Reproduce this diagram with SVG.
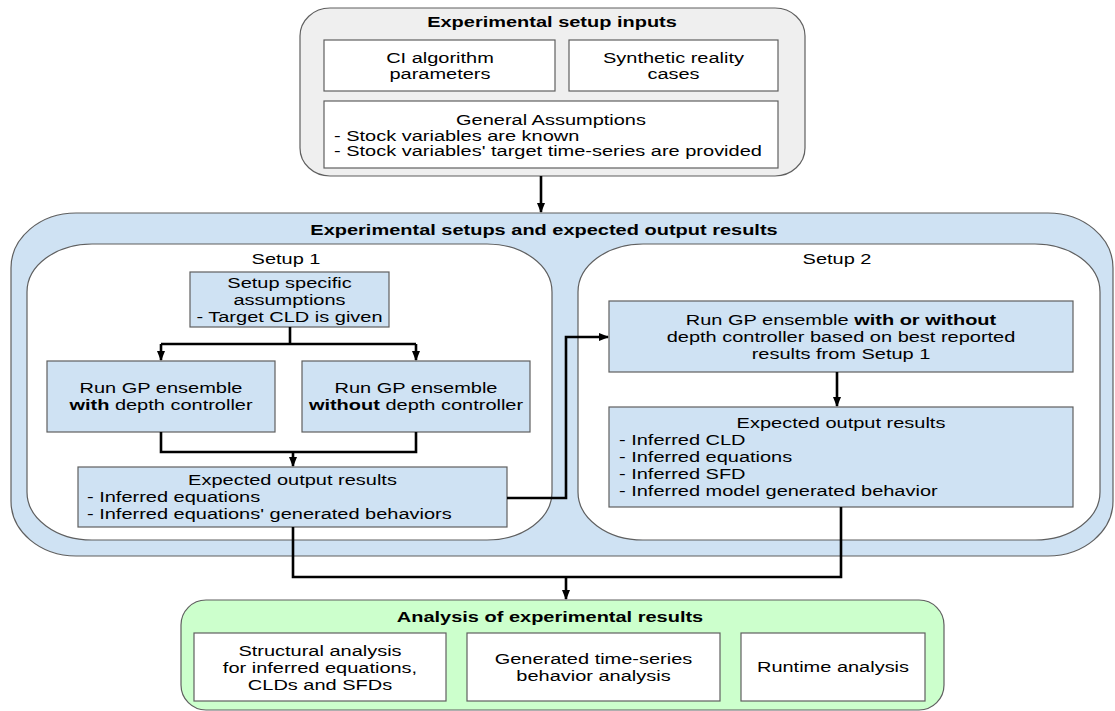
<svg xmlns="http://www.w3.org/2000/svg" width="1115" height="711" viewBox="0 0 1115 711">
<defs>
<style>
.t{font-family:"Liberation Sans",Arial,Helvetica,sans-serif;font-size:15px;fill:#000}
.c{text-anchor:middle}
.b{font-weight:bold}
.box{stroke:#5f5f5f;stroke-width:1.2}
.wh{fill:#ffffff}
.bl{fill:#cfe2f3}
.gr{fill:#efefef}
.gn{fill:#ccffcc}
.ln{fill:none;stroke:#000;stroke-width:2.6}
</style>
<marker id="ah" markerUnits="userSpaceOnUse" markerWidth="10" markerHeight="10" viewBox="0 0 10 10" refX="9" refY="5" orient="auto">
<path d="M0,1 L10,5 L0,9 Z" fill="#000"/>
</marker>
</defs>
<rect width="1115" height="711" fill="#ffffff"/>

<g id="inputs">
<rect class="box gr" x="300" y="8" width="505" height="168" rx="30" ry="28"/>
<text class="t c b" transform="matrix(1.333 0 0 1 552 27)">Experimental setup inputs</text>
</g>
<g id="ci-params">
<rect class="box wh" x="324" y="40" width="231" height="51"/>
<text class="t c" transform="matrix(1.333 0 0 1 440 63)"><tspan x="0">CI algorithm</tspan><tspan x="0" dy="16">parameters</tspan></text>
</g>
<g id="synthetic">
<rect class="box wh" x="569" y="40" width="209" height="51"/>
<text class="t c" transform="matrix(1.333 0 0 1 673.5 63)"><tspan x="0">Synthetic reality</tspan><tspan x="0" dy="16">cases</tspan></text>
</g>
<g id="general">
<rect class="box wh" x="324" y="101" width="454" height="67"/>
<text class="t c" transform="matrix(1.333 0 0 1 551 124.5)">General Assumptions</text>
<text class="t" transform="matrix(1.333 0 0 1 334 140.5)"><tspan x="0">- Stock variables are known</tspan><tspan x="0" dy="16">- Stock variables' target time-series are provided</tspan></text>
</g>

<g id="setups">
<rect class="box bl" x="11" y="213" width="1102" height="343" rx="65" ry="55"/>
<text class="t c b" transform="matrix(1.333 0 0 1 544 235)">Experimental setups and expected output results</text>
</g>

<g id="setup1">
<rect class="box wh" x="27" y="244" width="525" height="296" rx="65" ry="48"/>
<text class="t c" transform="matrix(1.333 0 0 1 286 264)">Setup 1</text>
</g>
<g id="assumptions1">
<rect class="box bl" x="190" y="272" width="199" height="55"/>
<text class="t c" transform="matrix(1.333 0 0 1 289.5 288)"><tspan x="0">Setup specific</tspan><tspan x="0" dy="17">assumptions</tspan><tspan x="0" dy="17">- Target CLD is given</tspan></text>
</g>
<g id="run-with">
<rect class="box bl" x="47" y="361" width="228" height="71"/>
<text class="t c" transform="matrix(1.333 0 0 1 161 393)"><tspan x="0">Run GP ensemble</tspan><tspan x="0" dy="17"><tspan class="b">with</tspan> depth controller</tspan></text>
</g>
<g id="run-without">
<rect class="box bl" x="302" y="361" width="228" height="71"/>
<text class="t c" transform="matrix(1.333 0 0 1 416 393)"><tspan x="0">Run GP ensemble</tspan><tspan x="0" dy="17"><tspan class="b">without</tspan> depth controller</tspan></text>
</g>
<g id="expected1">
<rect class="box bl" x="78" y="467" width="429" height="60"/>
<text class="t c" transform="matrix(1.333 0 0 1 292.5 485)">Expected output results</text>
<text class="t" transform="matrix(1.333 0 0 1 87 502)"><tspan x="0">- Inferred equations</tspan><tspan x="0" dy="17">- Inferred equations' generated behaviors</tspan></text>
</g>

<g id="setup2">
<rect class="box wh" x="578" y="244" width="522" height="296" rx="65" ry="48"/>
<text class="t c" transform="matrix(1.333 0 0 1 837 264)">Setup 2</text>
</g>
<g id="run-either">
<rect class="box bl" x="609" y="301" width="464" height="71"/>
<text class="t c" transform="matrix(1.333 0 0 1 841 325)"><tspan x="0">Run GP ensemble <tspan class="b">with or without</tspan></tspan><tspan x="0" dy="17">depth controller based on best reported</tspan><tspan x="0" dy="17">results from Setup 1</tspan></text>
</g>
<g id="expected2">
<rect class="box bl" x="609" y="407" width="464" height="100"/>
<text class="t c" transform="matrix(1.333 0 0 1 841 428)">Expected output results</text>
<text class="t" transform="matrix(1.333 0 0 1 619 445)"><tspan x="0">- Inferred CLD</tspan><tspan x="0" dy="17">- Inferred equations</tspan><tspan x="0" dy="17">- Inferred SFD</tspan><tspan x="0" dy="17">- Inferred model generated behavior</tspan></text>
</g>

<g id="analysis">
<rect class="box gn" x="181" y="600" width="763" height="110" rx="25" ry="25"/>
<text class="t c b" transform="matrix(1.333 0 0 1 550 622)">Analysis of experimental results</text>
</g>
<g id="structural">
<rect class="box wh" x="194" y="633" width="252" height="68"/>
<text class="t c" transform="matrix(1.333 0 0 1 320 656)"><tspan x="0">Structural analysis</tspan><tspan x="0" dy="17">for inferred equations,</tspan><tspan x="0" dy="17">CLDs and SFDs</tspan></text>
</g>
<g id="timeseries">
<rect class="box wh" x="467" y="633" width="253" height="68"/>
<text class="t c" transform="matrix(1.333 0 0 1 593.5 664)"><tspan x="0">Generated time-series</tspan><tspan x="0" dy="17">behavior analysis</tspan></text>
</g>
<g id="runtime">
<rect class="box wh" x="741" y="633" width="184" height="68"/>
<text class="t c" transform="matrix(1.333 0 0 1 833 672)">Runtime analysis</text>
</g>

<g id="connectors">
<path class="ln" d="M541,176 V212" marker-end="url(#ah)"/>
<path class="ln" d="M290,327 V344 M161,344 H416"/>
<path class="ln" d="M161,344 V360" marker-end="url(#ah)"/>
<path class="ln" d="M416,344 V360" marker-end="url(#ah)"/>
<path class="ln" d="M161,432 V452 H416 V432"/>
<path class="ln" d="M293,452 V466" marker-end="url(#ah)"/>
<path class="ln" d="M507,498 H566 V337 H608" marker-end="url(#ah)"/>
<path class="ln" d="M837,372 V406" marker-end="url(#ah)"/>
<path class="ln" d="M293,527 V577 H841 V507"/>
<path class="ln" d="M566,577 V599" marker-end="url(#ah)"/>
</g>
</svg>
